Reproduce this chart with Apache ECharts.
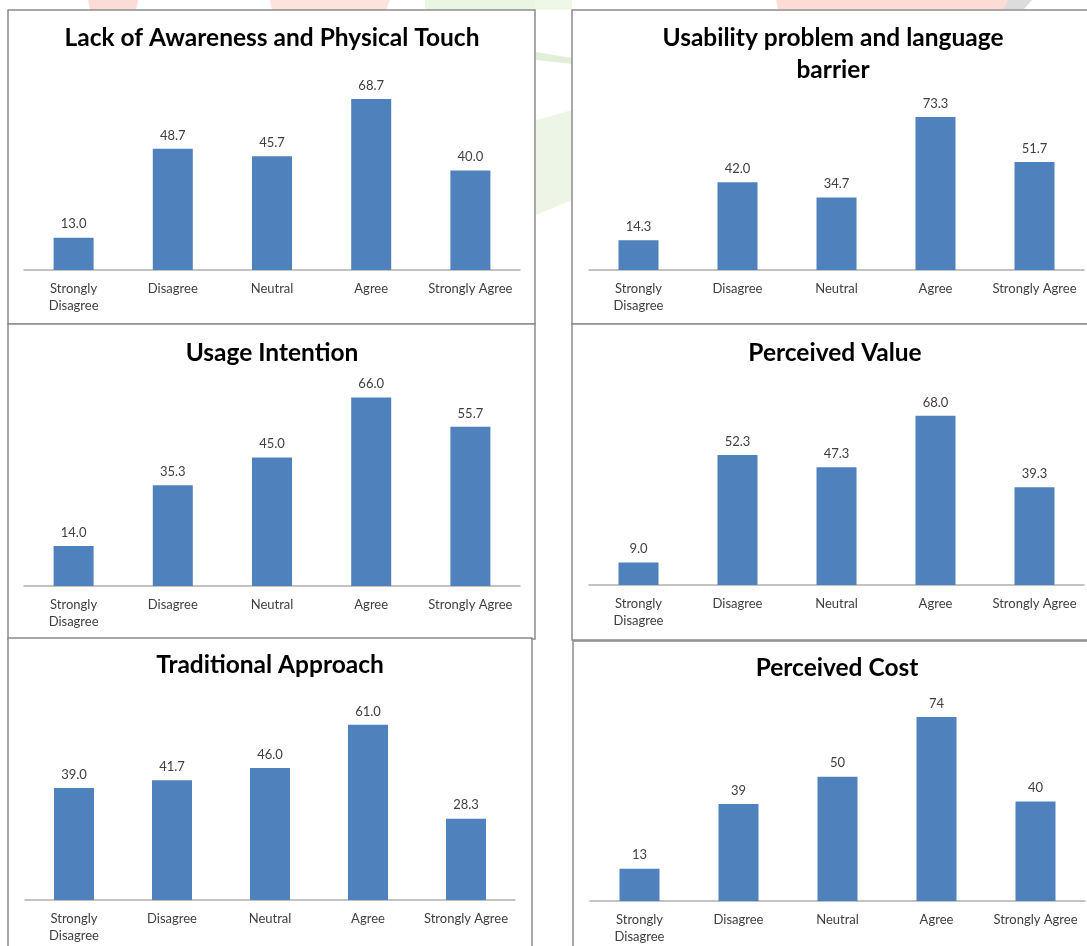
<!DOCTYPE html>
<html>
<head>
<meta charset="utf-8">
<script src="https://cdn.jsdelivr.net/npm/echarts@6/dist/echarts.min.js"></script>
<style>
html,body{margin:0;padding:0;background:#fff;}
#c{width:1087px;height:946px;}
</style>
</head>
<body>
<div id="c"></div>
<script>
// ---- data ----
const categories = ['Strongly Disagree', 'Disagree', 'Neutral', 'Agree', 'Strongly Agree'];
const titles = [
  'Lack of Awareness and Physical Touch',
  'Usability problem and language\nbarrier',
  'Usage Intention',
  'Perceived Value',
  'Traditional Approach',
  'Perceived Cost'
];
const awarenessTouch = [13.0, 48.7, 45.7, 68.7, 40.0];
const usabilityLanguage = [14.3, 42.0, 34.7, 73.3, 51.7];
const usageIntention = [14.0, 35.3, 45.0, 66.0, 55.7];
const perceivedValue = [9.0, 52.3, 47.3, 68.0, 39.3];
const traditionalApproach = [39.0, 41.7, 46.0, 61.0, 28.3];
const perceivedCost = [13, 39, 50, 74, 40];
const labelDecimals = [1, 1, 1, 1, 1, 0];
const axisMax = [80, 80, 70, 80, 70, 80];

// ---- layout (positions/styles) ----
const seriesData = [awarenessTouch, usabilityLanguage, usageIntention, perceivedValue, traditionalApproach, perceivedCost];
const grids = [
  {left: 24, top: 71, width: 496, height: 199},
  {left: 589, top: 103, width: 495, height: 167},
  {left: 24, top: 386, width: 496, height: 200},
  {left: 589, top: 386, width: 495, height: 199},
  {left: 25, top: 699, width: 490, height: 201},
  {left: 590, top: 702, width: 495, height: 199}
];
const panels = [
  {x: 8, y: 10, w: 527, h: 314},
  {x: 572, y: 10, w: 530, h: 314},
  {x: 8, y: 324, w: 527, h: 315},
  {x: 572, y: 324, w: 530, h: 316},
  {x: 8, y: 638, w: 524, h: 330},
  {x: 573, y: 641, w: 530, h: 330}
];
const titlePos = [
  {x: 272, y: 22},
  {x: 833, y: 22},
  {x: 272, y: 337},
  {x: 835, y: 337},
  {x: 270, y: 649},
  {x: 837, y: 652}
];
// faint background watermark fragments visible outside the panels
const watermark = [
  {pts: [[88, 0], [138, 0], [136, 10], [90, 10]], c: '#fcdcd6'},
  {pts: [[270, 0], [390, 0], [386, 10], [272, 10]], c: '#fde3de'},
  {pts: [[425, 0], [540, 0], [540, 10], [425, 10]], c: '#eaf5e2'},
  {pts: [[535, 0], [572, 0], [572, 10], [535, 10]], c: '#eef7e8'},
  {pts: [[536, 52], [572, 58], [572, 64], [536, 60]], c: '#e2efd6'},
  {pts: [[536, 120], [572, 110], [572, 200], [536, 215]], c: '#edf6e6'},
  {pts: [[776, 0], [1012, 0], [1005, 9], [778, 9]], c: '#fddcd6'},
  {pts: [[1008, 0], [1032, 0], [1024, 9], [1004, 9]], c: '#dcdcdc'}
];
const FONT = 'Lato, "Open Sans", sans-serif';

const graphics = [];
watermark.forEach(w => {
  graphics.push({type: 'polygon', z: -1, shape: {points: w.pts}, style: {fill: w.c}});
});
panels.forEach((p, i) => {
  graphics.push({
    type: 'rect', z: 0,
    shape: {x: p.x, y: p.y, width: p.w, height: p.h},
    style: {fill: '#ffffff', stroke: '#8c8c8c', lineWidth: 1.5}
  });
});
titles.forEach((t, i) => {
  graphics.push({
    type: 'text', z: 10,
    x: titlePos[i].x, y: titlePos[i].y,
    style: {
      text: t, fill: '#000000', fontFamily: FONT, fontWeight: 'bold', fontSize: 24.5,
      lineHeight: 32, align: 'center', verticalAlign: 'top'
    }
  });
});

const option = {
  animation: false,
  backgroundColor: '#ffffff',
  graphic: {elements: graphics},
  grid: grids.map(g => Object.assign({containLabel: false}, g)),
  xAxis: grids.map((g, i) => ({
    type: 'category', gridIndex: i, data: categories,
    axisTick: {show: false},
    axisLine: {lineStyle: {color: '#b0b0b0', width: 1.5}},
    axisLabel: {
      interval: 0, color: '#404040', fontFamily: FONT, fontSize: 13, lineHeight: 17, margin: 10,
      formatter: v => v === 'Strongly Disagree' ? 'Strongly\nDisagree' : v
    }
  })),
  yAxis: grids.map((g, i) => ({
    type: 'value', gridIndex: i, min: 0, max: axisMax[i], show: false,
    splitLine: {show: false}
  })),
  series: seriesData.map((d, i) => ({
    type: 'bar', xAxisIndex: i, yAxisIndex: i, data: d, barWidth: 40, z: 5,
    itemStyle: {color: '#4f81bd'},
    label: {
      show: true, position: 'top', distance: 7, color: '#404040', fontFamily: FONT, fontSize: 13,
      formatter: p => Number(p.value).toFixed(labelDecimals[i])
    }
  }))
};

const chart = echarts.init(document.getElementById('c'), null, {renderer: 'canvas'});
chart.setOption(option);
</script>
</body>
</html>
